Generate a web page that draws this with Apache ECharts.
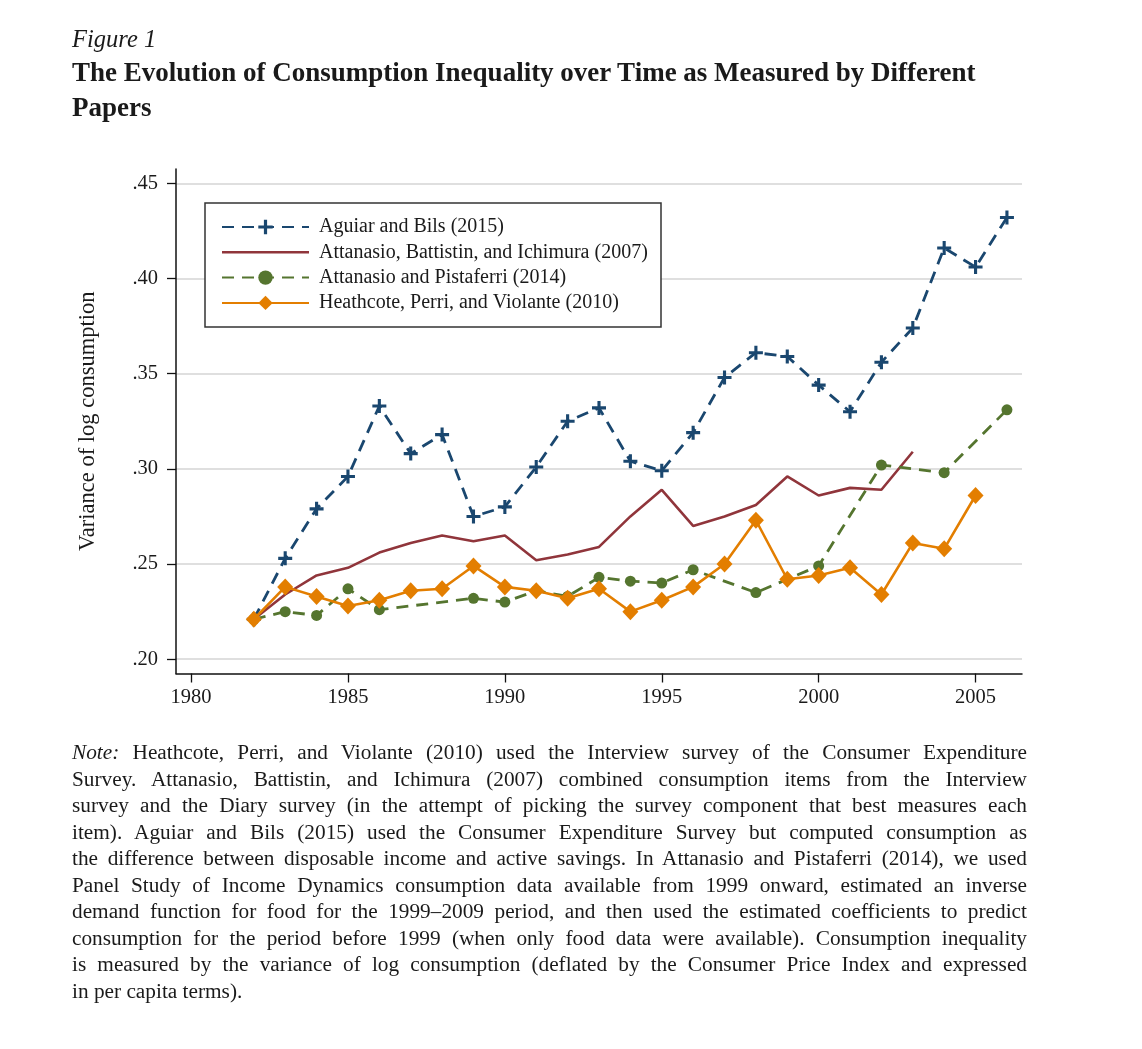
<!DOCTYPE html>
<html>
<head>
<meta charset="utf-8">
<script src="https://cdn.jsdelivr.net/npm/echarts@6/dist/echarts.min.js"></script>
<style>
  html, body { margin: 0; padding: 0; background: #fff; }
  #wrap { position: relative; width: 1142px; height: 1049px; overflow: hidden; }
  #chart { position: absolute; left: 0; top: 0; width: 1142px; height: 1049px; }
  .txt { position: absolute; font-family: "Liberation Serif", "Times New Roman", serif; color: #1a1a1a; }
  #fig { left: 72px; top: 25px; font-size: 24.5px; font-style: italic; }
  #title { left: 72px; top: 55px; font-size: 27px; font-weight: bold; line-height: 35px; }
  #note { left: 72px; top: 739px; width: 955px; font-size: 21.3px; line-height: 26.5px; }
  #note div { text-align: justify; text-align-last: justify; white-space: nowrap; }
  #note div.last { text-align-last: left; }
</style>
</head>
<body>
<div id="wrap">
  <div id="chart"></div>
  <div class="txt" id="fig">Figure 1</div>
  <div class="txt" id="title">The Evolution of Consumption Inequality over Time as Measured by Different<br>Papers</div>
  <div class="txt" id="note">
    <div><i>Note:</i> Heathcote, Perri, and Violante (2010) used the Interview survey of the Consumer Expenditure</div>
    <div>Survey. Attanasio, Battistin, and Ichimura (2007) combined consumption items from the Interview</div>
    <div>survey and the Diary survey (in the attempt of picking the survey component that best measures each</div>
    <div>item). Aguiar and Bils (2015) used the Consumer Expenditure Survey but computed consumption as</div>
    <div>the difference between disposable income and active savings. In Attanasio and Pistaferri (2014), we used</div>
    <div>Panel Study of Income Dynamics consumption data available from 1999 onward, estimated an inverse</div>
    <div>demand function for food for the 1999–2009 period, and then used the estimated coefficients to predict</div>
    <div>consumption for the period before 1999 (when only food data were available). Consumption inequality</div>
    <div>is measured by the variance of log consumption (deflated by the Consumer Price Index and expressed</div>
    <div class="last">in per capita terms).</div>
  </div>
</div>
<script>
// ---- data ----
const seriesNames = [
  'Aguiar and Bils (2015)',
  'Attanasio, Battistin, and Ichimura (2007)',
  'Attanasio and Pistaferri (2014)',
  'Heathcote, Perri, and Violante (2010)'
];
const aguiarYears = [1982,1983,1984,1985,1986,1987,1988,1989,1990,1991,1992,1993,1994,1995,1996,1997,1998,1999,2000,2001,2002,2003,2004,2005,2006];
const aguiarValues = [0.221,0.253,0.279,0.296,0.333,0.308,0.318,0.275,0.280,0.301,0.325,0.332,0.304,0.299,0.319,0.348,0.361,0.359,0.344,0.330,0.356,0.374,0.416,0.406,0.432];
const abiYears = [1982,1983,1984,1985,1986,1987,1988,1989,1990,1991,1992,1993,1994,1995,1996,1997,1998,1999,2000,2001,2002,2003];
const abiValues = [0.221,0.234,0.244,0.248,0.256,0.261,0.265,0.262,0.265,0.252,0.255,0.259,0.275,0.289,0.270,0.275,0.281,0.296,0.286,0.290,0.289,0.309];
const apYears = [1982,1983,1984,1985,1986,1989,1990,1991,1992,1993,1994,1995,1996,1998,2000,2002,2004,2006];
const apValues = [0.221,0.225,0.223,0.237,0.226,0.232,0.230,0.236,0.233,0.243,0.241,0.240,0.247,0.235,0.249,0.302,0.298,0.331];
const hpvYears = [1982,1983,1984,1985,1986,1987,1988,1989,1990,1991,1992,1993,1994,1995,1996,1997,1998,1999,2000,2001,2002,2003,2004,2005];
const hpvValues = [0.221,0.238,0.233,0.228,0.231,0.236,0.237,0.249,0.238,0.236,0.232,0.237,0.225,0.231,0.238,0.250,0.273,0.242,0.244,0.248,0.234,0.261,0.258,0.286];
const xTicks = [1980,1985,1990,1995,2000,2005];
const yTicks = [0.20,0.25,0.30,0.35,0.40,0.45];
const yTitle = 'Variance of log consumption';

const pairs = (xs, ys) => xs.map((x, i) => [x, ys[i]]);
const FONT = '"Liberation Serif", "Times New Roman", serif';
const plusPath = 'path://M7,0H11V7H18V11H11V18H7V11H0V7H7Z';
const solidLineIcon = 'path://M0,0H87V2.6H0Z';

const chart = echarts.init(document.getElementById('chart'), null, {renderer: 'canvas'});
chart.setOption({
  backgroundColor: '#ffffff',
  animation: false,
  grid: { left: 176, top: 169, width: 846, height: 504.5, containLabel: false },
  xAxis: {
    type: 'value', min: 1979.52, max: 2006.48,
    axisLine: { show: true, lineStyle: { color: '#111', width: 1.5 } },
    axisTick: { show: true, length: 9, lineStyle: { color: '#111', width: 1.3 }, customValues: xTicks },
    axisLabel: { customValues: xTicks, margin: 14, fontFamily: FONT, fontSize: 20.5, color: '#1a1a1a', formatter: v => String(v) },
    splitLine: { show: false }
  },
  yAxis: {
    type: 'value', min: 0.1925, max: 0.4575,
    name: yTitle, nameLocation: 'middle', nameRotate: 90, nameGap: 76,
    nameTextStyle: { fontFamily: FONT, fontSize: 22.5, color: '#1a1a1a' },
    axisLine: { show: true, lineStyle: { color: '#111', width: 1.5 } },
    axisTick: { show: true, length: 9, lineStyle: { color: '#111', width: 1.3 }, customValues: yTicks },
    axisLabel: { customValues: yTicks, margin: 18, fontFamily: FONT, fontSize: 20.5, color: '#1a1a1a',
      formatter: v => v.toFixed(2).replace(/^0/, '') },
    splitLine: { show: true, lineStyle: { color: '#d4d4d4', width: 1.5 } }
  },
  legend: {
    orient: 'vertical', left: 205, top: 203,
    padding: [14, 10, 14, 16],
    borderColor: '#333', borderWidth: 1.5, backgroundColor: '#fff',
    itemWidth: 87, itemHeight: 18, itemGap: 5.3,
    textStyle: { fontFamily: FONT, fontSize: 20, color: '#1a1a1a', lineHeight: 18, padding: [0, 0, 0, 5], width: 332 },
    data: [
      { name: seriesNames[0] },
      { name: seriesNames[1], icon: solidLineIcon },
      { name: seriesNames[2] },
      { name: seriesNames[3] }
    ]
  },
  series: [
    {
      name: seriesNames[0], type: 'line', data: pairs(aguiarYears, aguiarValues),
      symbol: plusPath, symbolSize: 14,
      lineStyle: { color: '#1a476f', width: 2.8, type: [12, 8] },
      itemStyle: { color: '#1a476f' }, z: 2
    },
    {
      name: seriesNames[1], type: 'line', data: pairs(abiYears, abiValues),
      symbol: 'none',
      lineStyle: { color: '#90353b', width: 2.6, type: 'solid' },
      itemStyle: { color: '#90353b' }, z: 3
    },
    {
      name: seriesNames[2], type: 'line', data: pairs(apYears, apValues),
      symbol: 'circle', symbolSize: 11,
      lineStyle: { color: '#55752f', width: 2.8, type: [12, 8] },
      itemStyle: { color: '#55752f' }, z: 4
    },
    {
      name: seriesNames[3], type: 'line', data: pairs(hpvYears, hpvValues),
      symbol: 'diamond', symbolSize: [16, 17],
      lineStyle: { color: '#e37e00', width: 2.6, type: 'solid' },
      itemStyle: { color: '#e37e00' }, z: 5
    }
  ]
});
</script>
</body>
</html>
